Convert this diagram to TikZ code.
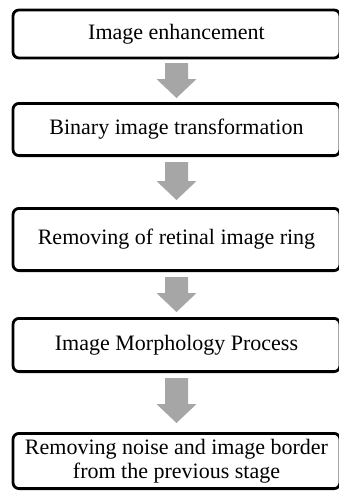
\documentclass[tikz,border=0pt]{standalone}
\usepackage{fontspec}
\setmainfont{Liberation Serif}
\usetikzlibrary{calc}
\definecolor{arrowgray}{HTML}{A6A6A6}
\begin{document}
\begin{tikzpicture}[x=1pt,y=-1pt,
  stepbox/.style={draw=black, line width=2.8pt, rounded corners=6pt, fill=white,
    minimum width=327pt, inner sep=0pt, align=center,
    font=\fontsize{22}{24}\selectfont},
  fatarrow/.style={fill=arrowgray, to path={
    let \p1=(\tikztostart), \p2=(\tikztotarget) in
    (\x1-11.5pt,\y1) -- (\x1+11.5pt,\y1) -- (\x1+11.5pt,\y2+19pt) -- (\x1+20pt,\y2+19pt)
    -- (\x1,\y2) -- (\x1-20pt,\y2+19pt) -- (\x1-11.5pt,\y2+19pt) -- cycle}}]
\useasboundingbox[fill=white] (0,0) rectangle (339,493);
\node[stepbox, minimum height=48pt] (s1) at (176.5,34) {Image enhancement};
\node[stepbox, minimum height=52.2pt] (s2) at (176.5,129.5) {Binary image transformation};
\node[stepbox, minimum height=62.2pt] (s3) at (176.5,239.5) {Removing of retinal image ring};
\node[stepbox, minimum height=53.2pt] (s4) at (176.5,345) {Image Morphology Process};
\node[stepbox, minimum height=55.2pt] (s5) at (176.5,461) {Removing noise and image border\\from the previous stage};
\path[fatarrow] ([yshift=-3.6pt]s1.south) to ([yshift=4pt]s2.north);
\path[fatarrow] ([yshift=-5pt]s2.south) to ([yshift=7pt]s3.north);
\path[fatarrow] ([yshift=-5pt]s3.south) to ([yshift=5pt]s4.north);
\path[fatarrow] ([yshift=-5pt]s4.south) to ([yshift=9pt]s5.north);
\end{tikzpicture}
\end{document}
